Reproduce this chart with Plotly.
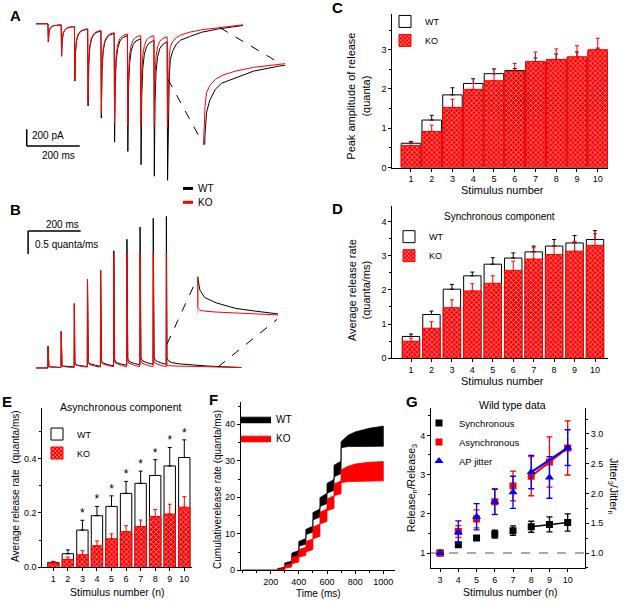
import plotly.graph_objects as go

W, H = 626, 610
FONT = "Liberation Sans, Arial, sans-serif"
RED = "#ff0000"
BLUE = "#0000ff"


def fx(p):
    return p / W


def fy(p):
    return 1 - p / H


# ---------------- data ----------------
stim = [1, 2, 3, 4, 5, 6, 7, 8, 9, 10]

# Panel A: current traces (pA), 10 pulses
a_pulse_t = [45, 95, 145, 195, 245, 295, 345, 395, 445, 495]
a_wt_pre = [0, -12, -34, -64, -86, -115, -140, -178, -198, -215]
a_ko_pre = [0, -12, -32, -60, -80, -105, -120, -138, -140, -155]
a_wt_peak = [-215, -385, -679, -973, -1117, -1403, -1513, -1670, -1807, -1855]
a_ko_peak = [-215, -375, -660, -930, -1060, -1180, -1200, -1205, -1210, -1225]
a_decay_off = [1.5, 4, 8, 14, 22, 32, 49]
a_decay_frac = [1.0, 0.45, 0.22, 0.11, 0.05, 0.02, 0.0]
a_tail_off = [4, 8, 12, 20, 34, 50, 84, 130, 194, 286]
a_tail_wt = [-1100, -600, -425, -330, -243, -195, -152, -100, -60, -20]
a_tail_ko = [-700, -380, -269, -215, -165, -135, -100, -70, -47, -12]

# Panel B: release-rate traces (quanta/ms)
b_pulse_t = [45, 95, 145, 195, 245, 295, 345, 395, 445, 495]
b_wt_pre = [0, 0.01, 0.02, 0.03, 0.04, 0.05, 0.06, 0.07, 0.08, 0.08]
b_ko_pre = [0, 0.01, 0.01, 0.02, 0.02, 0.03, 0.03, 0.03, 0.03, 0.03]
b_wt_peak = [0.48, 0.80, 1.41, 1.94, 2.14, 2.57, 2.82, 3.09, 3.28, 3.32]
b_ko_peak = [0.48, 0.80, 1.41, 1.94, 2.14, 2.50, 2.52, 2.52, 2.52, 2.52]
b_decay_off = [0.8, 2, 4, 8, 16, 30, 49]
b_decay_frac = [1.0, 0.1, 0.05, 0.03, 0.02, 0.01, 0.0]
b_tail_off = [3, 8, 20, 50, 100, 150, 200, 286]
b_tail_wt = [0.22, 0.16, 0.12, 0.09, 0.06, 0.045, 0.03, 0.01]
b_tail_ko = [0.06, 0.05, 0.045, 0.04, 0.035, 0.03, 0.025, 0.01]

# Panel C: peak amplitude (quanta)
c_wt = [0.62, 1.21, 1.85, 2.14, 2.39, 2.47, 2.68, 2.75, 2.80, 2.95]
c_wt_err = [0.04, 0.12, 0.18, 0.12, 0.12, 0.05, 0.11, 0.14, 0.14, 0.09]
c_ko = [0.56, 0.92, 1.53, 1.99, 2.21, 2.45, 2.70, 2.75, 2.82, 3.00]
c_ko_err = [0.06, 0.16, 0.21, 0.15, 0.18, 0.20, 0.24, 0.27, 0.28, 0.29]

# Panel D: synchronous release rate
d_wt = [0.64, 1.28, 2.02, 2.41, 2.75, 2.93, 3.11, 3.28, 3.37, 3.47]
d_wt_err = [0.07, 0.10, 0.14, 0.11, 0.19, 0.15, 0.17, 0.19, 0.22, 0.26]
d_ko = [0.50, 0.88, 1.48, 1.97, 2.19, 2.57, 2.90, 3.03, 3.13, 3.30]
d_ko_err = [0.09, 0.19, 0.23, 0.21, 0.22, 0.27, 0.33, 0.26, 0.29, 0.34]

# Panel E: asynchronous release rate
e_wt = [0.018, 0.050, 0.137, 0.190, 0.224, 0.272, 0.309, 0.338, 0.373, 0.404]
e_wt_err = [0.004, 0.014, 0.036, 0.034, 0.039, 0.044, 0.045, 0.058, 0.068, 0.065]
e_ko = [0.016, 0.029, 0.046, 0.079, 0.105, 0.131, 0.150, 0.187, 0.196, 0.221]
e_ko_err = [0.003, 0.009, 0.015, 0.018, 0.018, 0.022, 0.024, 0.026, 0.036, 0.039]
e_sig = [False, False, True, True, True, True, True, True, True, True]

# Panel F: cumulative release (band edges per inter-pulse plateau)
f_pulse_t = [250, 300, 350, 400, 450, 500, 550, 600, 650, 700]
f_wt_lo_s = [0.2, 1.3, 3.4, 6.6, 9.8, 13.8, 17.5, 21.1, 25.6]
f_wt_lo_e = [0.4, 1.6, 3.9, 7.2, 10.5, 14.6, 18.3, 21.9, 26.5]
f_wt_hi_s = [0.5, 2.0, 4.7, 7.9, 11.2, 15.8, 19.9, 23.8, 28.8]
f_wt_hi_e = [0.8, 2.5, 5.4, 8.7, 12.1, 16.8, 21.1, 24.9, 29.9]
f_ko_lo_s = [0.0, 0.6, 1.8, 3.6, 5.0, 8.6, 12.7, 16.3, 20.4]
f_ko_lo_e = [0.15, 0.9, 2.3, 4.1, 5.7, 9.3, 13.4, 17.0, 21.0]
f_ko_hi_s = [0.3, 1.4, 3.5, 5.7, 7.9, 11.8, 15.9, 19.5, 23.6]
f_ko_hi_e = [0.5, 1.8, 4.1, 6.3, 8.6, 12.7, 16.8, 20.4, 24.5]
f_tail_t = [700, 750, 800, 850, 900, 950, 1000]
f_wt_tail_lo = [33.6, 33.9, 34.0, 34.0, 34.0, 34.0, 34.0]
f_wt_tail_hi = [35.2, 37.0, 37.9, 38.5, 38.9, 39.2, 39.5]
f_ko_tail_lo = [24.0, 24.3, 24.4, 24.5, 24.5, 24.5, 24.5]
f_ko_tail_hi = [27.5, 28.5, 29.1, 29.4, 29.6, 29.7, 29.8]

# Panel G: wild type normalised data
g_n = [3, 4, 5, 6, 7, 8, 9, 10]
g_sync = [1.0, 1.21, 1.38, 1.48, 1.57, 1.67, 1.73, 1.78]
g_sync_err = [0.0, 0.03, 0.04, 0.10, 0.12, 0.14, 0.19, 0.22]
g_async = [1.0, 1.55, 1.87, 2.31, 2.71, 2.96, 3.32, 3.68]
g_async_err = [0.0, 0.15, 0.23, 0.33, 0.38, 0.50, 0.64, 0.69]
g_jit = [1.0, 1.35, 1.61, 1.86, 2.02, 2.36, 2.27, 2.77]
g_jit_err = [0.0, 0.19, 0.22, 0.21, 0.27, 0.28, 0.35, 0.30]


# ---------------- helpers ----------------
def train(pt, pre, peak, off, frac, tail_off, tail_val):
    xs, ys = [0], [pre[0]]
    n = len(pt)
    for k in range(n):
        xs.append(pt[k]); ys.append(pre[k])
        if k < n - 1:
            nxt = pre[k + 1]
            for o, f in zip(off, frac):
                xs.append(pt[k] + o); ys.append(nxt + f * (peak[k] - nxt))
        else:
            xs.append(pt[k] + off[0]); ys.append(peak[k])
            for o, v in zip(tail_off, tail_val):
                xs.append(pt[k] + o); ys.append(v)
    return xs, ys


def band(pt, lo_s, lo_e, hi_s, hi_e, tt, tlo, thi):
    ux, uy = [0, pt[0]], [0, 0]
    lx, ly = [0, pt[0]], [0, 0]
    for k in range(len(lo_s)):
        ux += [pt[k], pt[k + 1]]; uy += [hi_s[k], hi_e[k]]
        lx += [pt[k], pt[k + 1]]; ly += [lo_s[k], lo_e[k]]
    ux += tt; uy += thi
    lx += tt; ly += tlo
    return ux + lx[::-1], uy + ly[::-1]


fig = go.Figure()

# ---- A ----
ax_wt, ay_wt = train(a_pulse_t, a_wt_pre, a_wt_peak, a_decay_off, a_decay_frac, a_tail_off, a_tail_wt)
ax_ko, ay_ko = train(a_pulse_t, a_ko_pre, a_ko_peak, a_decay_off, a_decay_frac, a_tail_off, a_tail_ko)
for xa, ya in (("x", "y"), ("x2", "y2")):
    fig.add_trace(go.Scatter(x=ax_wt, y=ay_wt, mode="lines", line=dict(color="black", width=1),
                             showlegend=False, xaxis=xa, yaxis=ya, hoverinfo="skip"))
    fig.add_trace(go.Scatter(x=ax_ko, y=ay_ko, mode="lines", line=dict(color=RED, width=1),
                             showlegend=False, xaxis=xa, yaxis=ya, hoverinfo="skip"))

# ---- B ----
bx_wt, by_wt = train(b_pulse_t, b_wt_pre, b_wt_peak, b_decay_off, b_decay_frac, b_tail_off, b_tail_wt)
bx_ko, by_ko = train(b_pulse_t, b_ko_pre, b_ko_peak, b_decay_off, b_decay_frac, b_tail_off, b_tail_ko)
for xa, ya in (("x3", "y3"), ("x4", "y4")):
    fig.add_trace(go.Scatter(x=bx_wt, y=by_wt, mode="lines", line=dict(color="black", width=1),
                             showlegend=False, xaxis=xa, yaxis=ya, hoverinfo="skip"))
    fig.add_trace(go.Scatter(x=bx_ko, y=by_ko, mode="lines", line=dict(color=RED, width=1),
                             showlegend=False, xaxis=xa, yaxis=ya, hoverinfo="skip"))

# ---- bar panels ----
PATTERN = dict(shape="x", fgcolor="white", bgcolor=RED, size=3.5, solidity=0.45)


def bars(wt, wt_err, ko, ko_err, xa, ya, width, leg):
    fig.add_trace(go.Bar(x=stim, y=wt, width=width, name="WT", xaxis=xa, yaxis=ya, legend=leg,
                         marker=dict(color="white", line=dict(color="black", width=1)),
                         error_y=dict(type="data", array=wt_err, arrayminus=[0] * 10, symmetric=False,
                                      color="black", thickness=1, width=2)))
    fig.add_trace(go.Bar(x=stim, y=ko, width=width, name="KO", xaxis=xa, yaxis=ya, legend=leg,
                         marker=dict(color=RED, line=dict(color=RED, width=1), pattern=PATTERN),
                         error_y=dict(type="data", array=ko_err, arrayminus=[0] * 10, symmetric=False,
                                      color=RED, thickness=1, width=2)))


bars(c_wt, c_wt_err, c_ko, c_ko_err, "x5", "y5", 0.94, "legend")
bars(d_wt, d_wt_err, d_ko, d_ko_err, "x6", "y6", 0.85, "legend2")
bars(e_wt, e_wt_err, e_ko, e_ko_err, "x7", "y7", 0.78, "legend3")

star_x = [s for s, g in zip(stim, e_sig) if g]
star_y = [w + e for w, e, g in zip(e_wt, e_wt_err, e_sig) if g]
fig.add_trace(go.Scatter(x=star_x, y=star_y, mode="text", text=["*"] * len(star_x),
                         textposition="top center", textfont=dict(size=12, color="black"),
                         showlegend=False, xaxis="x7", yaxis="y7", hoverinfo="skip"))

# ---- F ----
fwx, fwy = band(f_pulse_t, f_wt_lo_s, f_wt_lo_e, f_wt_hi_s, f_wt_hi_e, f_tail_t, f_wt_tail_lo, f_wt_tail_hi)
fkx, fky = band(f_pulse_t, f_ko_lo_s, f_ko_lo_e, f_ko_hi_s, f_ko_hi_e, f_tail_t, f_ko_tail_lo, f_ko_tail_hi)
fig.add_trace(go.Scatter(x=fwx, y=fwy, mode="lines", fill="toself", fillcolor="black",
                         line=dict(color="black", width=0.8), name="WT", legend="legend4",
                         xaxis="x8", yaxis="y8", hoverinfo="skip"))
fig.add_trace(go.Scatter(x=fkx, y=fky, mode="lines", fill="toself", fillcolor=RED,
                         line=dict(color=RED, width=0.8), name="KO", legend="legend4",
                         xaxis="x8", yaxis="y8", hoverinfo="skip"))

# ---- G ----
fig.add_trace(go.Scatter(x=g_n[5:], y=g_sync[5:], mode="lines", line=dict(color="black", width=1.5),
                         showlegend=False, xaxis="x9", yaxis="y9", hoverinfo="skip"))
fig.add_trace(go.Scatter(x=g_n[5:], y=g_async[5:], mode="lines", line=dict(color=RED, width=2),
                         showlegend=False, xaxis="x9", yaxis="y9", hoverinfo="skip"))
fig.add_trace(go.Scatter(x=[g_n[5], g_n[7]], y=[g_jit[5], g_jit[7]], mode="lines",
                         line=dict(color=BLUE, width=2),
                         showlegend=False, xaxis="x9", yaxis="y10", hoverinfo="skip"))
fig.add_trace(go.Scatter(x=g_n, y=g_sync, mode="markers", name="Synchronous", legend="legend5",
                         marker=dict(symbol="square", size=7, color="black"),
                         error_y=dict(type="data", array=g_sync_err, color="black", thickness=1.3, width=3),
                         xaxis="x9", yaxis="y9"))
fig.add_trace(go.Scatter(x=g_n, y=g_async, mode="markers", name="Asynchronous", legend="legend5",
                         marker=dict(symbol="square", size=7, color=RED),
                         error_y=dict(type="data", array=g_async_err, color=RED, thickness=1.3, width=3),
                         xaxis="x9", yaxis="y9"))
fig.add_trace(go.Scatter(x=g_n, y=g_jit, mode="markers", name="AP jitter", legend="legend5",
                         marker=dict(symbol="triangle-up", size=8, color=BLUE),
                         error_y=dict(type="data", array=g_jit_err, color=BLUE, thickness=1.3, width=3),
                         xaxis="x9", yaxis="y10"))


# ---------------- layout ----------------
def axis(**kw):
    d = dict(showline=True, linecolor="black", linewidth=1, ticks="outside", ticklen=3, tickwidth=1,
             tickcolor="black", showgrid=False, zeroline=False, fixedrange=True,
             tickfont=dict(size=9, color="black", family=FONT))
    d.update(kw)
    return d


def hidden(**kw):
    d = dict(visible=False, showgrid=False, zeroline=False, fixedrange=True)
    d.update(kw)
    return d


def minor(dt):
    return dict(ticks="outside", ticklen=2, tickcolor="black", dtick=dt, tick0=0, showgrid=False)


stim_ticks = dict(tickmode="array", tickvals=stim, ticktext=[str(s) for s in stim])

layout = dict(
    width=W, height=H, autosize=False, margin=dict(l=0, r=0, t=0, b=0),
    paper_bgcolor="white", plot_bgcolor="rgba(0,0,0,0)",
    font=dict(family=FONT, color="black", size=10),
    barmode="overlay", showlegend=True,
    # A
    xaxis=hidden(domain=[fx(20), fx(290)], range=[-60.4, 958.5], anchor="y"),
    yaxis=hidden(domain=[fy(185), fy(15)], range=[-1893, 105.8], anchor="x"),
    xaxis2=hidden(domain=[fx(203), fx(285)], range=[498, 704.3], anchor="y2"),
    yaxis2=hidden(domain=[fy(146), fy(60)], range=[-682, -7.8], anchor="x2"),
    # B
    xaxis3=hidden(domain=[fx(20), fx(290)], range=[-60.8, 965.8], anchor="y3"),
    yaxis3=hidden(domain=[fy(385), fy(205)], range=[-0.304, 3.609], anchor="x3"),
    xaxis4=hidden(domain=[fx(197), fx(278)], range=[495.5, 703], anchor="y4"),
    yaxis4=hidden(domain=[fy(325), fy(279)], range=[-0.0163, 0.2337], anchor="x4"),
    # C
    xaxis5=axis(domain=[fx(392.3), fx(608.3)], range=[0.1, 10.51], anchor="y5", **stim_ticks),
    yaxis5=axis(domain=[fy(169), fy(14)], range=[0, 3.91], anchor="x5", dtick=1, tick0=0, minor=minor(0.5)),
    # D
    xaxis6=axis(domain=[fx(392.3), fx(608.3)], range=[0.085, 10.65], anchor="y6", **stim_ticks),
    yaxis6=axis(domain=[fy(361.3), fy(207.7)], range=[0, 4.45], anchor="x6", dtick=1, tick0=0, minor=minor(0.5)),
    # E
    xaxis7=axis(domain=[fx(42.3), fx(192.3)], range=[0.245, 10.55], anchor="y7", **stim_ticks),
    yaxis7=axis(domain=[fy(572), fy(411.7)], range=[0, 0.585], anchor="x7", dtick=0.2, tick0=0,
                tickformat=".1f", minor=minor(0.1)),
    # F
    xaxis8=axis(domain=[fx(240.7), fx(395)], range=[-13, 1083], anchor="y8",
                tickmode="array", tickvals=[200, 400, 600, 800, 1000], minor=minor(100)),
    yaxis8=axis(domain=[fy(575), fy(405)], range=[0, 46.2], anchor="x8", dtick=10, tick0=0, minor=minor(5)),
    # G
    xaxis9=axis(domain=[fx(431), fx(585)], range=[2.5, 10.95], anchor="y9",
                tickmode="array", tickvals=g_n),
    yaxis9=axis(domain=[fy(573), fy(411.7)], range=[0.61, 4.69], anchor="x9", dtick=1, tick0=0,
                minor=minor(0.5)),
    yaxis10=axis(overlaying="y9", side="right", anchor="x9", range=[0.744, 3.43], dtick=0.5, tick0=0,
                 tickformat=".1f", minor=minor(0.25)),
)


def leg(x, y, size=9):
    return dict(x=fx(x), y=fy(y), xanchor="left", yanchor="top", xref="paper", yref="paper",
                font=dict(size=size, color="black", family=FONT), bgcolor="rgba(0,0,0,0)",
                borderwidth=0, tracegroupgap=0, itemwidth=30, itemclick=False, itemdoubleclick=False)


layout["legend"] = leg(385, 7)
layout["legend2"] = leg(389, 224)
layout["legend3"] = leg(37, 423)
layout["legend4"] = leg(236, 408, 10)
layout["legend5"] = leg(419, 412, 9.5)

fig.update_layout(**layout)


def txt(x, y, s, size=10, angle=0, xanchor="center", bold=False):
    return dict(x=fx(x), y=fy(y), xref="paper", yref="paper", text=("<b>%s</b>" % s) if bold else s,
                showarrow=False, textangle=angle, xanchor=xanchor, yanchor="middle",
                font=dict(size=size, color="black", family=FONT))


ann = [
    txt(15, 16, "A", 15, bold=True), txt(15, 211, "B", 15, bold=True),
    txt(337, 8, "C", 15, bold=True), txt(337, 210, "D", 15, bold=True),
    txt(7, 405, "E", 15, bold=True), txt(213, 403, "F", 15, bold=True),
    txt(412, 405, "G", 15, bold=True),
    # A / B scale labels
    txt(30, 137, "200 pA", 10, xanchor="left"), txt(58, 157, "200 ms", 10),
    txt(62, 226, "200 ms", 10), txt(33, 247, "0.5 quanta/ms", 10, xanchor="left"),
    # A/B legend
    txt(196, 190, "WT", 10, xanchor="left"), txt(196, 204, "KO", 10, xanchor="left"),
    # axis titles
    txt(358.5, 97, "Peak amplitude of release<br>(quanta)", 11, angle=-90),
    txt(503, 192, "Stimulus number", 11),
    txt(358.5, 293, "Average release rate<br>(quanta/ms)", 11, angle=-90),
    txt(503, 384, "Stimulus number", 11),
    txt(499, 218, "Synchronous component", 10),
    txt(16, 490, "Average release rate  (quanta/ms)", 10, angle=-90),
    txt(117, 597, "Stimulus number (n)", 10.5),
    txt(120, 410, "Asynchronous component", 10.5),
    txt(218, 494, "Cumulativerelease rate (quanta/ms)", 10, angle=-90),
    txt(318, 598, "Time (ms)", 10),
    txt(412, 492, "Release<sub>n</sub>/Release<sub>3</sub>", 10.5, angle=-90),
    txt(613, 490, "Jitter<sub>3</sub>/Jitter<sub>n</sub>", 10.5, angle=90),
    txt(510, 597, "Stimulus number (n)", 10.5),
    txt(512, 408, "Wild type data", 10.5),
]
fig.update_layout(annotations=ann)


def pline(x0, y0, x1, y1, color="black", width=1, dash="dash"):
    return dict(type="line", xref="paper", yref="paper", x0=fx(x0), y0=fy(y0), x1=fx(x1), y1=fy(y1),
                line=dict(color=color, width=width, dash=dash))


shapes = [
    # inset connectors
    pline(168, 80, 202, 143), pline(220, 28, 282, 65),
    pline(167, 347, 197, 281), pline(218, 370, 277, 322),
    # A/B legend swatches
    pline(183, 190, 193, 190, width=3, dash="solid"),
    pline(183, 204, 193, 204, color=RED, width=3, dash="solid"),
    # A scale bar (200 pA, 200 ms)
    dict(type="line", xref="x", yref="y", x0=-35, x1=-35, y0=-1250, y1=-1450, line=dict(color="black", width=1.5)),
    dict(type="line", xref="x", yref="y", x0=-35, x1=165, y0=-1450, y1=-1450, line=dict(color="black", width=1.5)),
    # B scale bar (200 ms, 0.5 quanta/ms)
    dict(type="line", xref="x3", yref="y3", x0=-30, x1=-30, y0=2.5, y1=3.0, line=dict(color="black", width=1.5)),
    dict(type="line", xref="x3", yref="y3", x0=-30, x1=170, y0=3.0, y1=3.0, line=dict(color="black", width=1.5)),
    # G reference line
    dict(type="line", xref="x9 domain", yref="y9", x0=0, x1=1, y0=1, y1=1,
         line=dict(color="#555555", width=1, dash="dash"), layer="below"),
]
fig.update_layout(shapes=shapes)

fig.write_html("out.html", config={"displayModeBar": False, "staticPlot": False},
               post_script="document.body.style.margin='0px';")
